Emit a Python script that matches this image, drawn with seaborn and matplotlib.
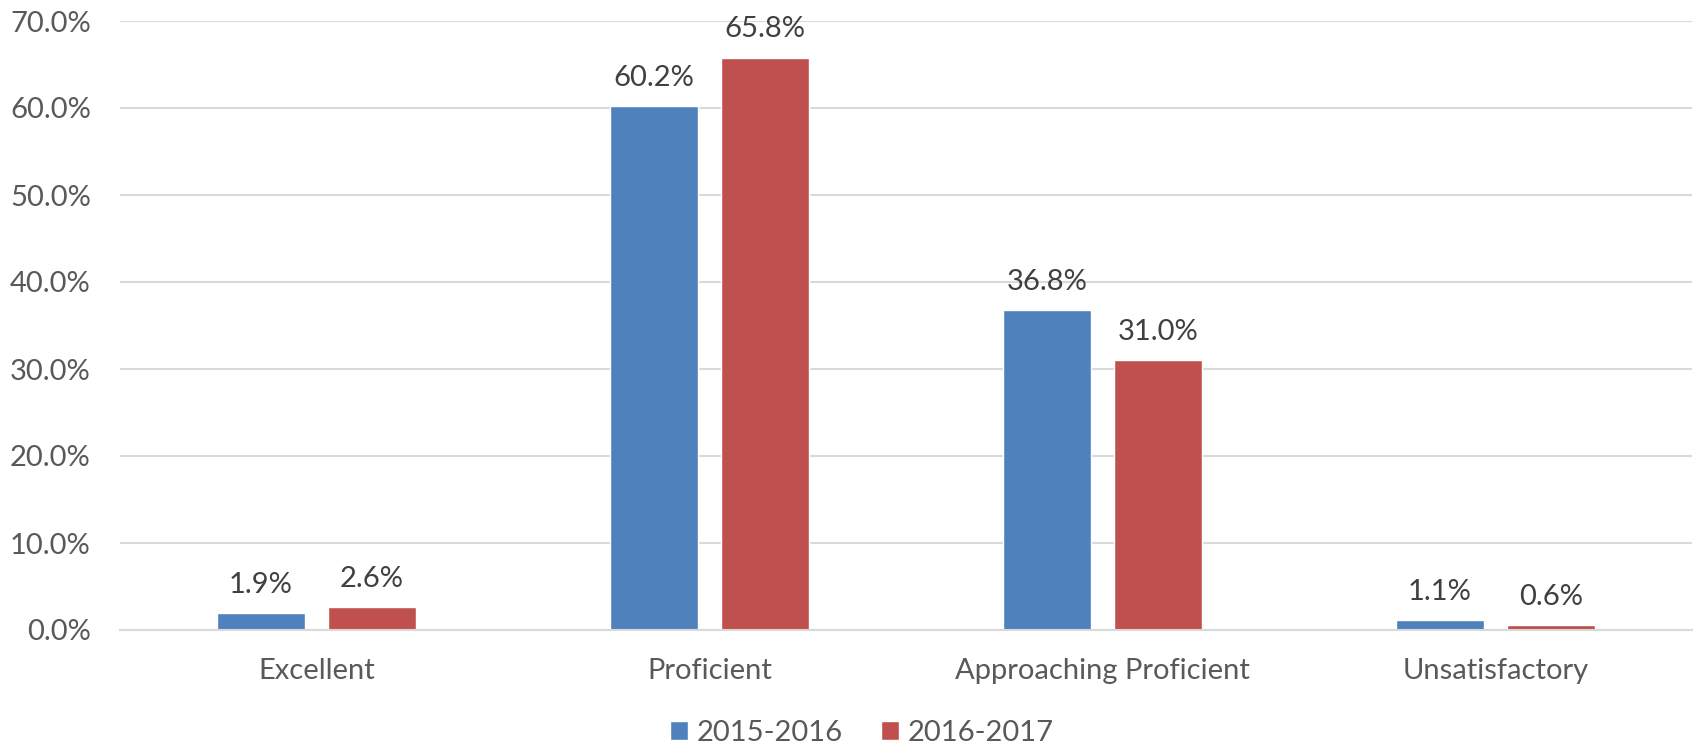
import pandas as pd
import matplotlib
matplotlib.use("Agg")
import matplotlib.pyplot as plt
import seaborn as sns
from matplotlib.ticker import FuncFormatter

# values (percent)
categories = ["Excellent", "Proficient", "Approaching Proficient", "Unsatisfactory"]
years = ["2015-2016", "2016-2017"]
vals_2015 = [1.9, 60.2, 36.8, 1.1]
vals_2016 = [2.6, 65.8, 31.0, 0.6]
y_ticks = [0, 10, 20, 30, 40, 50, 60, 70]

colors = {"2015-2016": "#4F81BD", "2016-2017": "#C0504D"}
text_color = "#595959"
grid_color = "#D9D9D9"

df = pd.DataFrame({
    "category": categories * 2,
    "year": [years[0]] * len(categories) + [years[1]] * len(categories),
    "value": vals_2015 + vals_2016,
})

sns.set_style("white")
plt.rcParams["font.family"] = ["Lato", "DejaVu Sans"]

fig = plt.figure(figsize=(16.94, 7.48), dpi=100)
ax = fig.add_axes([120 / 1694, 1 - 630 / 748, (1692 - 120) / 1694, (630 - 21) / 748])

sns.barplot(data=df, x="category", y="value", hue="year", order=categories,
            hue_order=years, palette=colors, width=0.565, gap=0.2,
            errorbar=None, saturation=1, ax=ax, legend=True)

for cont in ax.containers:
    ax.bar_label(cont, fmt="%.1f%%", padding=11, fontsize=21, color="#404040")

ax.set_ylim(0, 70)
ax.set_yticks(y_ticks)
ax.yaxis.set_major_formatter(FuncFormatter(lambda v, _: f"{v:.1f}%"))
ax.set_xlim(-0.5, len(categories) - 0.5)
ax.set_xlabel("")
ax.set_ylabel("")

ax.grid(axis="y", color=grid_color, linewidth=1.5)
ax.set_axisbelow(True)
for side in ["top", "right", "left"]:
    ax.spines[side].set_visible(False)
ax.spines["bottom"].set_color(grid_color)
ax.spines["bottom"].set_linewidth(1.5)
ax.tick_params(axis="both", length=0, labelsize=21, labelcolor=text_color)
ax.tick_params(axis="y", pad=21)
ax.tick_params(axis="x", pad=20)

handles, labels = ax.get_legend_handles_labels()
ax.get_legend().remove()
fig.legend(handles, labels, loc="center", bbox_to_anchor=(862 / 1694, 1 - 733 / 748),
           ncol=2, frameon=False, fontsize=21, labelcolor=text_color,
           handlelength=0.62, handleheight=0.62, handletextpad=0.3, columnspacing=1.3)

fig.savefig("out.png", dpi=100)
